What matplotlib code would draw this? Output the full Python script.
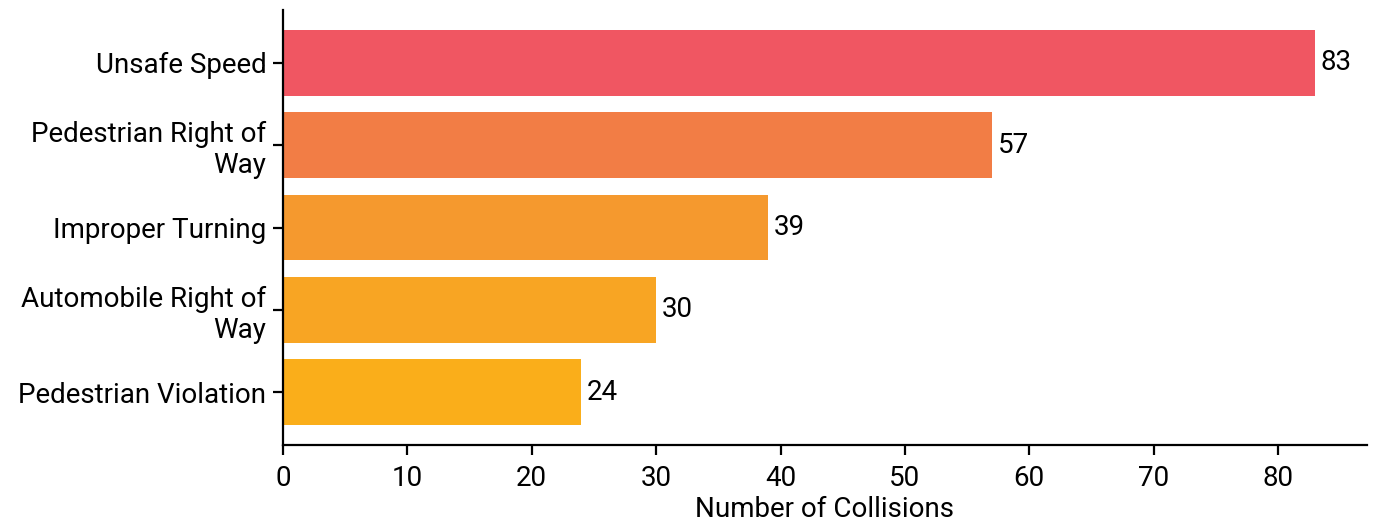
import matplotlib
matplotlib.use("Agg")
import matplotlib.pyplot as plt

# ---------------------------------------------------------------------------
# Data
# ---------------------------------------------------------------------------
CATEGORIES = [
    "Unsafe Speed",
    "Pedestrian Right of\nWay",
    "Improper Turning",
    "Automobile Right of\nWay",
    "Pedestrian Violation",
]
COUNTS = [83, 57, 39, 30, 24]
COLORS = ["#F05662", "#F27D45", "#F5992E", "#F8A523", "#FAAE1A"]

plt.rcParams["font.family"] = ["Roboto", "DejaVu Sans"]
plt.rcParams["font.size"] = 10

fig, ax = plt.subplots(figsize=(6.935, 2.615), dpi=200)
fig.subplots_adjust(left=0.204, right=0.9856, top=0.981, bottom=0.149)

ypos = list(range(len(CATEGORIES)))
bars = ax.barh(ypos, COUNTS, height=0.8, color=COLORS)
ax.set_yticks(ypos)
ax.set_yticklabels(CATEGORIES)
ax.invert_yaxis()

ax.bar_label(bars, labels=[str(c) for c in COUNTS], padding=2, fontsize=10)

ax.set_xlim(0, max(COUNTS) * 1.05)
ax.set_xticks(range(0, 90, 10))
ax.set_xlabel("Number of Collisions", fontsize=10, labelpad=1.5)
ax.tick_params(labelsize=10)
ax.tick_params(axis="y", pad=2.5)

for side in ("top", "right"):
    ax.spines[side].set_visible(False)

fig.savefig("out.png", dpi=200)
